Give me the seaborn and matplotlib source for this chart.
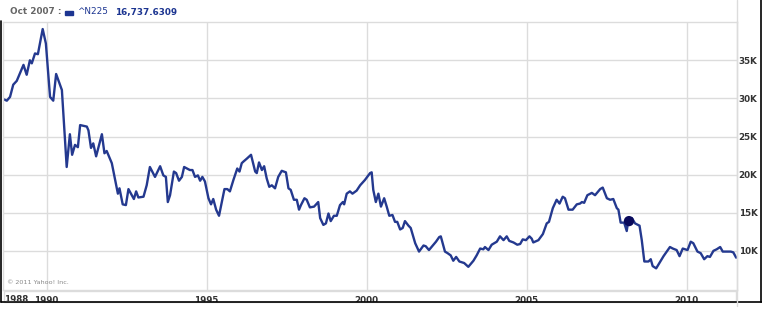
import matplotlib
matplotlib.use("Agg")
import matplotlib.pyplot as plt
import matplotlib.patches as mpatches
from matplotlib.lines import Line2D
import seaborn as sns
import pandas as pd

# ---------------- data ----------------
years = [
    1988.65, 1988.76, 1988.86, 1988.96, 1989.07, 1989.17, 1989.28, 1989.38, 1989.48, 1989.54,
    1989.64, 1989.73, 1989.88, 1989.98, 1990.11, 1990.21, 1990.30, 1990.42, 1990.48, 1990.63,
    1990.73, 1990.80, 1990.89, 1990.98, 1991.05, 1991.26, 1991.31, 1991.39, 1991.46, 1991.55,
    1991.73, 1991.81, 1991.88, 1992.04, 1992.23, 1992.28, 1992.38, 1992.48, 1992.56, 1992.73,
    1992.80, 1992.87, 1993.03, 1993.13, 1993.23, 1993.39, 1993.55, 1993.65, 1993.73, 1993.79,
    1993.86, 1993.98, 1994.05, 1994.14, 1994.23, 1994.30, 1994.48, 1994.56, 1994.64, 1994.73,
    1994.80, 1994.87, 1994.95, 1995.06, 1995.14, 1995.21, 1995.30, 1995.39, 1995.56, 1995.65,
    1995.73, 1995.84, 1995.96, 1996.03, 1996.10, 1996.15, 1996.26, 1996.39, 1996.52, 1996.57,
    1996.64, 1996.73, 1996.80, 1996.88, 1996.96, 1997.04, 1997.14, 1997.24, 1997.35, 1997.48,
    1997.56, 1997.63, 1997.73, 1997.82, 1997.89, 1997.95, 1998.06, 1998.13, 1998.23, 1998.36,
    1998.49, 1998.55, 1998.65, 1998.73, 1998.81, 1998.88, 1998.98, 1999.07, 1999.17, 1999.26,
    1999.30, 1999.38, 1999.48, 1999.56, 1999.69, 1999.80, 1999.95, 2000.11, 2000.16, 2000.21,
    2000.29, 2000.37, 2000.45, 2000.55, 2000.63, 2000.71, 2000.81, 2000.89, 2000.96, 2001.05,
    2001.13, 2001.20, 2001.31, 2001.38, 2001.52, 2001.64, 2001.78, 2001.85, 2001.95, 2002.07,
    2002.17, 2002.27, 2002.32, 2002.45, 2002.53, 2002.63, 2002.71, 2002.80, 2002.90, 2003.05,
    2003.18, 2003.34, 2003.44, 2003.55, 2003.65, 2003.70, 2003.81, 2003.91, 2004.07, 2004.17,
    2004.28, 2004.38, 2004.46, 2004.59, 2004.71, 2004.80, 2004.88, 2004.98, 2005.09, 2005.16,
    2005.21, 2005.37, 2005.51, 2005.63, 2005.70, 2005.82, 2005.94, 2006.03, 2006.13, 2006.20,
    2006.31, 2006.44, 2006.57, 2006.67, 2006.73, 2006.80, 2006.90, 2007.04, 2007.14, 2007.30,
    2007.38, 2007.51, 2007.61, 2007.71, 2007.82, 2007.87, 2007.94, 2008.05, 2008.13, 2008.18,
    2008.29, 2008.39, 2008.53, 2008.60, 2008.68, 2008.81, 2008.88, 2008.94, 2009.05, 2009.15,
    2009.28, 2009.38, 2009.48, 2009.57, 2009.69, 2009.78, 2009.88, 2010.03, 2010.13, 2010.21,
    2010.34, 2010.44, 2010.55, 2010.65, 2010.73, 2010.84, 2010.94, 2011.05, 2011.13, 2011.26,
    2011.38, 2011.46, 2011.55,
]
values = [
    29900, 29700, 30200, 31800, 32300, 33300, 34400, 33100, 35000, 34600,
    35900, 35800, 39100, 37200, 30200, 29700, 33200, 31800, 31100, 21000,
    25300, 22600, 23900, 23600, 26500, 26300, 25800, 23500, 24100, 22400,
    25300, 22800, 23100, 21500, 17500, 18200, 16100, 16000, 18100, 16800,
    17800, 17000, 17100, 18600, 21000, 19700, 21100, 19900, 19700, 16400,
    17300, 20400, 20200, 19200, 19700, 21000, 20600, 20600, 19700, 19900,
    19200, 19700, 19100, 16900, 16100, 16800, 15400, 14600, 18100, 18100,
    17800, 19300, 20800, 20400, 21500, 21700, 22100, 22600, 20400, 20200,
    21600, 20600, 21100, 19500, 18400, 18600, 18200, 19700, 20500, 20300,
    18200, 18000, 16700, 16700, 15400, 16000, 16900, 16700, 15700, 15800,
    16400, 14300, 13400, 13600, 14900, 13900, 14600, 14600, 16000, 16400,
    16100, 17500, 17800, 17500, 17900, 18600, 19300, 20200, 20300, 18000,
    16400, 17500, 15800, 16900, 15800, 14600, 14700, 13800, 13800, 12800,
    13000, 13900, 13300, 13000, 11000, 9900, 10700, 10600, 10100, 10700,
    11200, 11800, 11900, 9900, 9700, 9400, 8700, 9200, 8600, 8400,
    7900, 8700, 9400, 10300, 10200, 10500, 10100, 10800, 11200, 11900,
    11400, 11900, 11300, 11100, 10800, 10900, 11500, 11400, 11900, 11600,
    11100, 11400, 12200, 13600, 13800, 15600, 16700, 16200, 17100, 16900,
    15400, 15400, 16100, 16200, 16400, 16300, 17300, 17600, 17300, 18100,
    18300, 16900, 16700, 16800, 15600, 15400, 13700, 13700, 12600, 14000,
    14300, 13600, 13300, 11400, 8600, 8600, 8900, 8000, 7700, 8400,
    9300, 9900, 10500, 10300, 10100, 9300, 10300, 10100, 11200, 11000,
    9900, 9700, 8900, 9300, 9200, 10000, 10200, 10500, 9900, 9900,
    9900, 9800, 9100,
]
hover_year = [2008.20]
hover_value = [13900]

year_ticks = [1990, 1995, 2000, 2005, 2010]
year_labels = ["1990", "1995", "2000", "2005", "2010"]
start_label = "1988"
value_ticks = [10000, 15000, 20000, 25000, 30000, 35000]
value_labels = ["10K", "15K", "20K", "25K", "30K", "35K"]

header_date = "Oct 2007 :"
header_symbol = "^N225"
header_value = "16,737.6309"
copyright_text = "\u00a9 2011 Yahoo! Inc."

# ---------------- style ----------------
sns.set_style("white")
plt.rcParams["font.family"] = ["DejaVu Sans"]

LINE = "#24398f"
GRID = "#dcdcdc"
LABEL = "#333333"
HEAD_BLUE = "#1c3591"

W, H = 762, 312
fig = plt.figure(figsize=(W / 100, H / 100), dpi=100)


def fx(px):
    return px / W


def fy(py):
    return 1 - py / H


ax = fig.add_axes([fx(3), fy(290), fx(736.5) - fx(3), fy(21.5) - fy(290)])

df = pd.DataFrame({"year": years, "value": values})
sns.lineplot(data=df, x="year", y="value", ax=ax, color=LINE, linewidth=1.7,
             estimator=None, sort=False)
sns.scatterplot(x=hover_year, y=hover_value, ax=ax, color="#0a0a5c", s=55,
                edgecolor="none", zorder=5)

ax.set_xlim(1988.64, 2011.56)
ax.set_ylim(4860, 40090)

ax.set_xticks(year_ticks)
ax.set_xticklabels(year_labels)
ax.set_yticks(value_ticks)
ax.set_yticklabels(value_labels)
ax.yaxis.tick_right()
ax.tick_params(axis="y", length=0, pad=1.5, labelsize=6.3, labelcolor=LABEL)
ax.tick_params(axis="x", length=0, pad=4.2, labelsize=6.3, labelcolor=LABEL)
for t in ax.get_xticklabels() + ax.get_yticklabels():
    t.set_fontweight("bold")
ax.set_xlabel("")
ax.set_ylabel("")
ax.grid(True, color=GRID, linewidth=1.0)
ax.set_axisbelow(True)
for s in ax.spines.values():
    s.set_color(GRID)
    s.set_linewidth(1.0)

# start-year label at left edge
fig.text(fx(4), fy(301.5), start_label, fontsize=6.3, fontweight="bold",
         color=LABEL, ha="left", va="baseline")

# bottom strip frame
fig.add_artist(mpatches.Rectangle((fx(4), fy(302)), fx(736) - fx(4), fy(291) - fy(302),
                                  transform=fig.transFigure, fill=False,
                                  edgecolor=GRID, linewidth=1.0))
# outer black frame lines
fig.add_artist(Line2D([fx(0.5), fx(761.5)], [fy(302), fy(302)], color="black", lw=1.2,
                      transform=fig.transFigure))
fig.add_artist(Line2D([fx(1), fx(1)], [fy(21), fy(302)], color="black", lw=1.2,
                      transform=fig.transFigure))
fig.add_artist(Line2D([fx(761), fx(761)], [fy(0), fy(302)], color="black", lw=1.2,
                      transform=fig.transFigure))
fig.add_artist(Line2D([fx(737), fx(737)], [fy(0), fy(306)], color=GRID, lw=1.0,
                      transform=fig.transFigure))

# header
fig.text(fx(10), fy(12), header_date, fontsize=6.4, fontweight="bold",
         color="#666666", ha="left", va="center")
fig.add_artist(mpatches.Rectangle((fx(65), fy(15)), fx(8), fy(11) - fy(15),
                                  transform=fig.transFigure, color=HEAD_BLUE))
fig.text(fx(77), fy(12), header_symbol, fontsize=6.4, color=HEAD_BLUE,
         ha="left", va="center")
fig.text(fx(115), fy(12), header_value, fontsize=6.4, fontweight="bold",
         color=HEAD_BLUE, ha="left", va="center")

# copyright
fig.text(fx(7), fy(282), copyright_text, fontsize=4.6, color="#888888",
         ha="left", va="center")

fig.savefig("out.png", dpi=100)
